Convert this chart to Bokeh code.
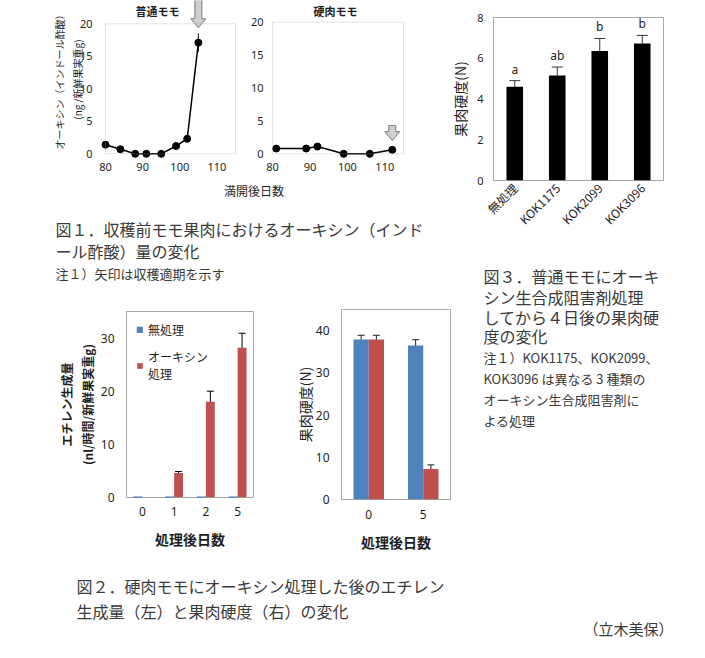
from math import pi
from bokeh.plotting import figure
from bokeh.models import (Range1d, FactorRange, BoxAnnotation, Label, Whisker, TeeHead,
                          ColumnDataSource, FixedTicker, Legend, LegendItem)
from bokeh.layouts import row, column
from bokeh.transform import dodge
from bokeh.core.properties import value
from bokeh.embed import file_html
from bokeh.resources import INLINE

# ---------------- data ----------------
# Fig.1 auxin (IAA) content before harvest
normal_days = [80, 84, 88, 91, 95, 99, 102, 105]
normal_iaa = [1.4, 0.7, 0.0, 0.0, 0.0, 1.2, 2.3, 17.1]
normal_err = [0, 0, 0, 0, 0, 0, 0, 1.4]
hard_days = [81, 89, 92, 99, 106, 112]
hard_iaa = [0.8, 0.8, 1.1, 0.0, 0.0, 0.6]
harvest_day = [105, 112]          # arrows: harvest time
harvest_arrow_tip = [19.4, 2.0]
fig1_xticks = [80, 90, 100, 110]
fig1_yticks = [0, 5, 10, 15, 20]

# Fig.3 firmness after auxin-synthesis inhibitor
inhib_labels = ["無処理", "KOK1175", "KOK2099", "KOK3096"]
inhib_firm = [4.6, 5.15, 6.35, 6.72]
inhib_err = [0.3, 0.42, 0.62, 0.4]
inhib_sig = ["a", "ab", "b", "b"]
fig3_yticks = [0, 2, 4, 6, 8]

# Fig.2 left: ethylene production
eth_days = ["0", "1", "2", "5"]
eth_ctrl = [0.1, 0.1, 0.1, 0.1]
eth_auxin = [0.0, 4.6, 18.0, 28.2]
eth_auxin_err = [0.0, 0.3, 2.0, 2.7]
fig4_yticks = [0, 10, 20, 30]

# Fig.2 right: firmness
firm_days = ["0", "5"]
firm_ctrl = [37.9, 36.5]
firm_ctrl_err = [1.0, 1.35]
firm_auxin = [37.9, 7.2]
firm_auxin_err = [1.0, 1.0]
fig5_yticks = [0, 10, 20, 30, 40]

series_names = ["無処理", "オーキシン\n処理"]

JP = "Noto Sans CJK JP"
NUM = "Noto Sans"
TXT = "#1e1e1e"
CAP = "#3a3a3a"
FRAME = "#a6a6a6"
BLUE = "#4f81bd"
RED = "#c0504d"


def span(pa, va, pb, vb, e0, e1):
    k = (vb - va) / (pb - pa)
    return va + (e0 - pa) * k, va + (e1 - pa) * k


def panel(c, f, xr, yr):
    cx0, cy0, cx1, cy1 = c
    fx0, fy0, fx1, fy1 = f
    p = figure(width=cx1 - cx0, height=cy1 - cy0, x_range=xr, y_range=yr,
               min_border_left=fx0 - cx0, min_border_right=cx1 - fx1,
               min_border_top=fy0 - cy0, min_border_bottom=cy1 - fy1,
               output_backend="svg", toolbar_location=None)
    p.grid.visible = False
    p.outline_line_color = FRAME
    for ax in p.axis:
        ax.axis_line_color = None
        ax.major_tick_line_color = None
        ax.minor_tick_line_color = None
        ax.major_tick_in = 0
        ax.major_tick_out = 0
        ax.minor_tick_in = 0
        ax.minor_tick_out = 0
        ax.major_label_text_color = TXT
        ax.major_label_text_font = NUM
        ax.axis_label_text_font = JP
        ax.axis_label_text_color = TXT
        ax.axis_label_text_font_style = "normal"
    return p


def label(p, f, X, Y, text, size, angle=0.0, bold=False, align="center"):
    fx0, fy0, fx1, fy1 = f
    p.add_layout(Label(x=X - fx0, y=fy1 - Y, x_units="screen", y_units="screen",
                       text=text, angle=angle, text_align=align, text_baseline="middle",
                       text_font=JP, text_font_size=f"{size}px",
                       text_font_style="bold" if bold else "normal", text_color=TXT))


def text_canvas(c):
    cx0, cy0, cx1, cy1 = c
    p = figure(width=cx1 - cx0, height=cy1 - cy0, x_range=Range1d(cx0, cx1),
               y_range=Range1d(cy1, cy0), x_axis_type=None, y_axis_type=None,
               min_border=0, output_backend="svg", toolbar_location=None)
    p.grid.visible = False
    p.outline_line_color = None
    return p


def put(p, X, Y, s, size, align="left", color=CAP, bold=False):
    p.text(x=[X], y=[Y], text=[s], text_font=value(JP), text_font_size=f"{size}px",
           text_baseline="middle", text_align=align, text_color=color,
           text_font_style="bold" if bold else "normal")


def arrow(p, x, tip, xk, yk, length, head_len=9, head_hw=7.5, shaft_hw=3.5):
    xs = [x, x - head_hw * xk, x - shaft_hw * xk, x - shaft_hw * xk,
          x + shaft_hw * xk, x + shaft_hw * xk, x + head_hw * xk]
    ys = [tip, tip + head_len * yk, tip + head_len * yk, tip + length * yk,
          tip + length * yk, tip + head_len * yk, tip + head_len * yk]
    p.patch(xs, ys, fill_color="#cfcfcf", line_color="#7a7a7a", line_width=1)


def line_panel(c, f, xmap, ymap, days, vals, errs, title, title_xy, arrow_i, arrow_len):
    xr = span(*xmap, f[0], f[2])
    yr = span(*ymap, f[3], f[1])
    p = panel(c, f, Range1d(*xr), Range1d(*yr))
    p.outline_line_color = None
    p.add_layout(BoxAnnotation(left=fig1_xticks[0], right=115, bottom=fig1_yticks[0],
                               top=fig1_yticks[-1], fill_color=None, fill_alpha=0,
                               line_color=FRAME, line_width=1))
    p.xaxis.ticker = FixedTicker(ticks=fig1_xticks)
    p.yaxis.ticker = FixedTicker(ticks=fig1_yticks)
    p.xaxis.major_label_text_font_size = "11px"
    p.yaxis.major_label_text_font_size = "11px"
    p.xaxis.major_label_standoff = 4
    if errs is not None:
        ex = [d for d, e in zip(days, errs) if e > 0]
        elo = [v - e for v, e in zip(vals, errs) if e > 0]
        ehi = [v + e for v, e in zip(vals, errs) if e > 0]
        p.segment(x0=ex, y0=elo, x1=ex, y1=ehi, line_color="black", line_width=1)
    p.line(days, vals, line_color="black", line_width=1.5)
    p.scatter(days, vals, size=7, fill_color="black", line_color="black")
    xk = (xmap[3] - xmap[1]) / (xmap[2] - xmap[0])
    yk = -(ymap[3] - ymap[1]) / (ymap[2] - ymap[0])
    arrow(p, harvest_day[arrow_i], harvest_arrow_tip[arrow_i], xk, yk, arrow_len)
    label(p, f, title_xy[0], title_xy[1], title, 11, bold=True)
    return p


# ---------------- Fig.1 ----------------
c1 = (0, 0, 243, 180); f1 = (99, 0, 237, 158)
p1 = line_panel(c1, f1, (105, 80, 235, 115), (153.3, 0, 23.3, 20),
                normal_days, normal_iaa, normal_err, "普通モモ", (157, 10), 0, 28)
p1.yaxis.major_label_standoff = 7
p1.yaxis.axis_label = "オーキシン（インドール酢酸）\n(ng /新鮮果実重g)"
p1.yaxis.axis_label_text_font_size = "10px"
p1.yaxis.axis_label_standoff = -8

c2 = (243, 0, 440, 180); f2 = (266, 0, 406, 158)
p2 = line_panel(c2, f2, (272, 80, 403, 115), (153.3, 0, 21.7, 20),
                hard_days, hard_iaa, None, "硬肉モモ", (335, 10), 1, 15)
p2.yaxis.major_label_standoff = 3

capA = text_canvas((0, 180, 440, 262))
put(capA, 253.5, 190, "満開後日数", 12, align="center", color=TXT)
put(capA, 55, 228, "図１．収穫前モモ果肉におけるオーキシン（インド", 16)
put(capA, 55, 250, "ール酢酸）量の変化", 16)

# ---------------- Fig.3 ----------------
c3 = (440, 0, 689, 262); f3 = (493, 17, 663, 180)
p3 = panel(c3, f3, FactorRange(*inhib_labels), Range1d(0, fig3_yticks[-1]))
p3.vbar(x=inhib_labels, top=inhib_firm, width=0.39, fill_color="black", line_color=None)
src3 = ColumnDataSource(dict(x=inhib_labels, lo=inhib_firm,
                             hi=[v + e for v, e in zip(inhib_firm, inhib_err)]))
p3.add_layout(Whisker(base="x", lower="lo", upper="hi", source=src3, line_color="#333333",
                      line_width=1, lower_head=None,
                      upper_head=TeeHead(size=11, line_color="#333333", line_width=1)))
p3.text(x=inhib_labels, y=[v + e for v, e in zip(inhib_firm, inhib_err)], text=inhib_sig,
        text_align="center", text_baseline="bottom", y_offset=-3,
        text_font=value(NUM), text_font_size="12px", text_color=TXT)
p3.yaxis.ticker = FixedTicker(ticks=fig3_yticks)
p3.yaxis.major_label_text_font_size = "11px"
p3.yaxis.major_label_standoff = 10
p3.yaxis.axis_label = "果肉硬度(N)"
p3.yaxis.axis_label_text_font_size = "14px"
p3.yaxis.axis_label_standoff = 4
p3.xaxis.major_label_orientation = pi / 4
p3.xaxis.major_label_text_font = JP
p3.xaxis.major_label_text_font_size = "12px"
p3.xaxis.major_label_standoff = 5

# ---------------- Fig.1 note (band B left) ----------------
capB = text_canvas((0, 262, 452, 300))
put(capB, 55, 273, "注１）矢印は収穫適期を示す", 13)

# ---------------- Fig.3 caption ----------------
cap3 = text_canvas((452, 262, 689, 560))
for i, s in enumerate(["図３．普通モモにオーキ", "シン生合成阻害剤処理",
                       "してから４日後の果肉硬", "度の変化"]):
    put(cap3, 483, [275, 296, 316, 335][i], s, 16)
for i, s in enumerate(["注１）KOK1175、KOK2099、", "KOK3096 は異なる 3 種類の",
                       "オーキシン生合成阻害剤に", "よる処理"]):
    put(cap3, 483, [357, 378, 399, 420][i], s, 13)

# ---------------- Fig.2 left ----------------
c4 = (0, 300, 270, 560); f4 = (126, 311, 253, 497)
p4 = panel(c4, f4, FactorRange(*eth_days), Range1d(0, 35))
src4 = ColumnDataSource(dict(day=eth_days, ctrl=eth_ctrl, aux=eth_auxin))
rb = p4.vbar(x=dodge("day", -0.14, range=p4.x_range), top="ctrl", width=0.28, source=src4,
             fill_color=BLUE, line_color=BLUE)
rr = p4.vbar(x=dodge("day", 0.14, range=p4.x_range), top="aux", width=0.28, source=src4,
             fill_color=RED, line_color=None)
sel = [i for i, e in enumerate(eth_auxin_err) if e > 0]
src4e = ColumnDataSource(dict(day=[eth_days[i] for i in sel],
                              lo=[eth_auxin[i] - eth_auxin_err[i] for i in sel],
                              hi=[eth_auxin[i] + eth_auxin_err[i] for i in sel]))
p4.add_layout(Whisker(base=dodge("day", 0.14, range=p4.x_range), lower="lo", upper="hi",
                      source=src4e, line_color="black", line_width=1,
                      lower_head=TeeHead(size=7, line_color="black", line_width=1),
                      upper_head=TeeHead(size=7, line_color="black", line_width=1)))
p4.yaxis.ticker = FixedTicker(ticks=fig4_yticks)
for ax in p4.axis:
    ax.major_label_text_font_size = "12px"
p4.yaxis.major_label_standoff = 12
p4.xaxis.major_label_standoff = 9
p4.yaxis.axis_label = "エチレン生成量\n(nl/時間/新鮮果実重g)"
p4.yaxis.axis_label_text_font_size = "12px"
p4.yaxis.axis_label_text_font_style = "bold"
p4.yaxis.axis_label_standoff = 2
p4.xaxis.axis_label = "処理後日数"
p4.xaxis.axis_label_text_font_size = "14px"
p4.xaxis.axis_label_text_font_style = "bold"
p4.xaxis.axis_label_standoff = 10
leg = Legend(items=[LegendItem(label=series_names[0], renderers=[rb]),
                    LegendItem(label=series_names[1], renderers=[rr])],
             location="top_left", margin=10, padding=9, spacing=10,
             glyph_width=7, glyph_height=7, label_height=14, label_standoff=5,
             label_text_font=JP, label_text_font_size="12px", label_text_color=TXT,
             border_line_color=None, background_fill_alpha=0)
p4.add_layout(leg)

# ---------------- Fig.2 right ----------------
c5 = (270, 300, 452, 560); f5 = (341, 309, 450, 499)
p5 = panel(c5, f5, FactorRange(*firm_days), Range1d(0, 45))
src5 = ColumnDataSource(dict(day=firm_days, ctrl=firm_ctrl, aux=firm_auxin,
                             clo=[v - e for v, e in zip(firm_ctrl, firm_ctrl_err)],
                             chi=[v + e for v, e in zip(firm_ctrl, firm_ctrl_err)],
                             alo=[v - e for v, e in zip(firm_auxin, firm_auxin_err)],
                             ahi=[v + e for v, e in zip(firm_auxin, firm_auxin_err)]))
p5.vbar(x=dodge("day", -0.14, range=p5.x_range), top="ctrl", width=0.28, source=src5,
        fill_color=BLUE, line_color=None)
p5.vbar(x=dodge("day", 0.14, range=p5.x_range), top="aux", width=0.28, source=src5,
        fill_color=RED, line_color=None)
for off, lo, hi in [(-0.14, "clo", "chi"), (0.14, "alo", "ahi")]:
    p5.add_layout(Whisker(base=dodge("day", off, range=p5.x_range), lower=lo, upper=hi,
                          source=src5, line_color="#222222", line_width=1,
                          lower_head=TeeHead(size=7, line_color="#222222", line_width=1),
                          upper_head=TeeHead(size=7, line_color="#222222", line_width=1)))
p5.yaxis.ticker = FixedTicker(ticks=fig5_yticks)
for ax in p5.axis:
    ax.major_label_text_font_size = "12px"
p5.yaxis.major_label_standoff = 12
p5.xaxis.major_label_standoff = 10
p5.yaxis.axis_label = "果肉硬度(N)"
p5.yaxis.axis_label_text_font_size = "14px"
p5.yaxis.axis_label_standoff = -2
p5.xaxis.axis_label = "処理後日数"
p5.xaxis.axis_label_text_font_size = "14px"
p5.xaxis.axis_label_text_font_style = "bold"
p5.xaxis.axis_label_standoff = 10

# ---------------- bottom captions ----------------
cap2 = text_canvas((0, 560, 689, 642))
put(cap2, 76, 585, "図２．硬肉モモにオーキシン処理した後のエチレン", 16)
put(cap2, 76, 610, "生成量（左）と果肉硬度（右）の変化", 16)
put(cap2, 673, 628, "（立木美保）", 15, align="right")

bandA = row(column(row(p1, p2), capA), p3)
bandB = row(column(capB, row(column(p4), column(p5))), cap3)
root = column(bandA, bandB, cap2)

open("out.html", "w").write(file_html(root, INLINE))
